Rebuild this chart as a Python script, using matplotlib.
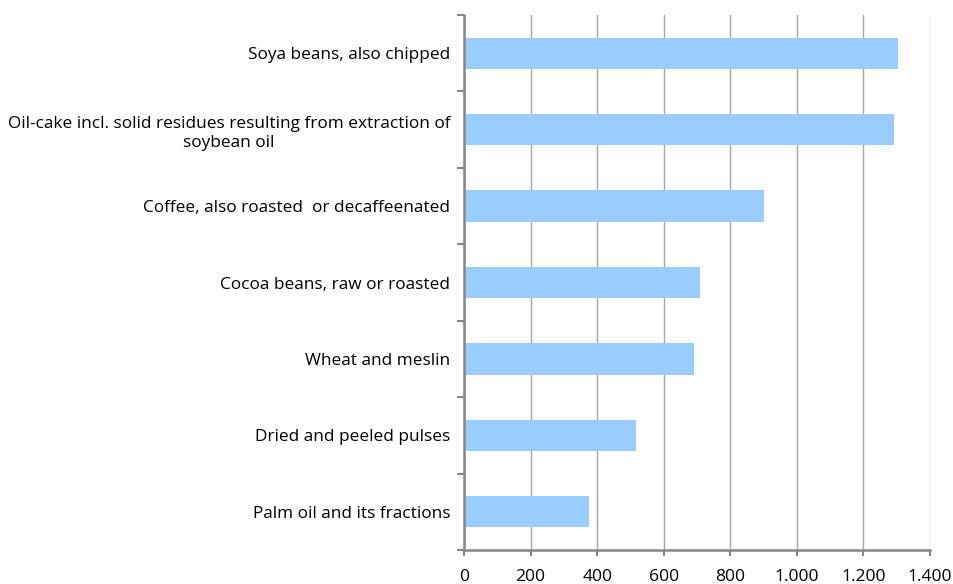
import matplotlib.pyplot as plt
import numpy as np
from matplotlib.ticker import FuncFormatter

plt.rcParams['font.family'] = ['Open Sans', 'DejaVu Sans']

# Products, top to bottom
products = [
    "Soya beans, also chipped",
    "Oil-cake incl. solid residues resulting from extraction of\nsoybean oil",
    "Coffee, also roasted  or decaffeenated",
    "Cocoa beans, raw or roasted",
    "Wheat and meslin",
    "Dried and peeled pulses",
    "Palm oil and its fractions",
]
values = [1303, 1293, 900, 710, 690, 518, 375]
x_ticks = [0, 200, 400, 600, 800, 1000, 1200, 1400]

bar_color = '#99CCFF'
grid_color = '#A6A6A6'
axis_color = '#868686'

fig = plt.figure(figsize=(9.54, 5.84), dpi=100)
ax = fig.add_axes([0.4864, 0.0582, 0.4884, 0.9161])

n = len(products)
ypos = np.arange(n)[::-1]
ax.barh(ypos, values, height=0.41, color=bar_color, zorder=2)

ax.set_xlim(0, 1400)
ax.set_ylim(-0.5, n - 0.5)
ax.set_xticks(x_ticks)
ax.xaxis.set_major_formatter(FuncFormatter(lambda v, p: f"{int(v):,}".replace(',', '.')))
ax.grid(axis='x', color=grid_color, linewidth=1.0, zorder=0)

# category labels at bar centres, tick marks at band boundaries
ax.set_yticks(ypos)
ax.set_yticklabels(products, ha='right', multialignment='center', linespacing=1.3)
ax.set_yticks(np.arange(-0.5, n), minor=True)
ax.tick_params(axis='y', which='major', length=0, labelsize=12.4, pad=10)
ax.tick_params(axis='y', which='minor', length=5, width=1.5, color=axis_color, direction='out')
ax.tick_params(axis='x', length=4, width=1.5, color=axis_color, labelsize=12.6, pad=10)

for side in ['top', 'right']:
    ax.spines[side].set_visible(False)
for side in ['left', 'bottom']:
    ax.spines[side].set_color(axis_color)
    ax.spines[side].set_linewidth(1.8)

fig.savefig('out.png', dpi=100, facecolor='white')
